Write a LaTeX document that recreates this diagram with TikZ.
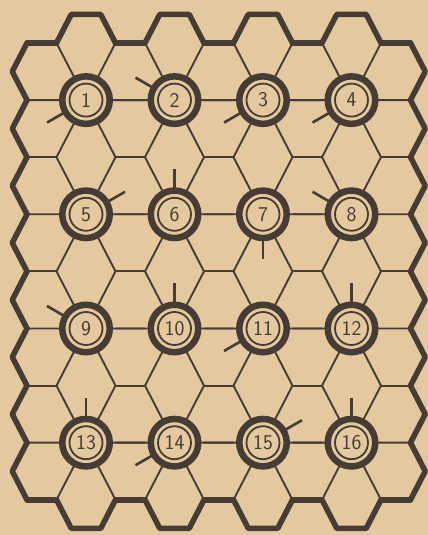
\documentclass[tikz,border=0pt]{standalone}
\usepackage{tikz}
\usetikzlibrary{calc}
\definecolor{boardtan}{HTML}{E3C99D}
\definecolor{boardink}{HTML}{443C35}
\tikzset{
  hexLine/.style={draw=boardink, line width=1.9pt, line join=round},
  hexBorder/.style={draw=boardink, line width=5.5pt, line join=round, line cap=round},
  spotCircle/.style={circle, draw=boardink, fill=boardtan, line width=6.5pt, minimum size=47.5pt, inner sep=0pt, font=\sffamily\fontsize{21}{21}\selectfont, text=boardink},
  spotRing/.style={draw=boardink, line width=1.8pt},
  spotTick/.style={draw=boardink, line width=2.6pt}
}
\begin{document}
\begin{tikzpicture}[x=1pt,y=1pt]
  \fill[boardtan] (0,0) rectangle (428,535);
  \useasboundingbox (0,0) rectangle (428,535);
  % short flats between the spot rows
  \foreach \cx in {41.75,130.25,218.75,307.25,395.75}
    \foreach \cy in {377.8,263.6,149.4}
      \draw[hexLine] (\cx-14.75,\cy) -- (\cx+14.75,\cy);
  % outer rim
  \foreach \cx in {86,174.5,263,351.5} {
    \draw[hexBorder] (\cx-29.5,492) -- (\cx-14.75,520.55) -- (\cx+14.75,520.55) -- (\cx+29.5,492);
    \draw[hexBorder] (\cx-29.5,35.2) -- (\cx-14.75,6.65) -- (\cx+14.75,6.65) -- (\cx+29.5,35.2);
  }
  \foreach \cx in {41.75,130.25,218.75,307.25,395.75} {
    \draw[hexBorder] (\cx-14.75,492) -- (\cx+14.75,492);
    \draw[hexBorder] (\cx-14.75,35.2) -- (\cx+14.75,35.2);
  }
  \foreach \j in {0,...,7} {
    \pgfmathsetmacro\cy{463.45-57.1*\j}
    \draw[hexBorder] (27,\cy+28.55) -- (12.25,\cy) -- (27,\cy-28.55);
    \draw[hexBorder] (410.5,\cy+28.55) -- (425.25,\cy) -- (410.5,\cy-28.55);
  }
  % numbered spots with their six spokes
  \foreach \n/\ang [count=\k from 0] in {1/210,2/150,3/210,4/210,5/30,6/90,7/270,8/150,9/150,10/90,11/210,12/90,13/90,14/210,15/30,16/90} {
    \pgfmathsetmacro\sx{86+88.5*mod(\k,4)}
    \pgfmathsetmacro\sy{434.9-114.2*floor(\k/4)}
    \coordinate (o\n) at (\sx,\sy);
    \draw[hexLine] ($(o\n)+(-59,0)$) -- ($(o\n)+(59,0)$)
      ($(o\n)+(-29.5,-57.1)$) -- ($(o\n)+(29.5,57.1)$)
      ($(o\n)+(-29.5,57.1)$) -- ($(o\n)+(29.5,-57.1)$);
    \node[spotCircle] (s\n) at (o\n) {\n};
    \draw[spotRing] (s\n.center) circle[radius=16.5];
    \draw[spotTick] (s\n.center) ++(\ang:25) -- ++(\ang:20);
  }
\end{tikzpicture}
\end{document}
